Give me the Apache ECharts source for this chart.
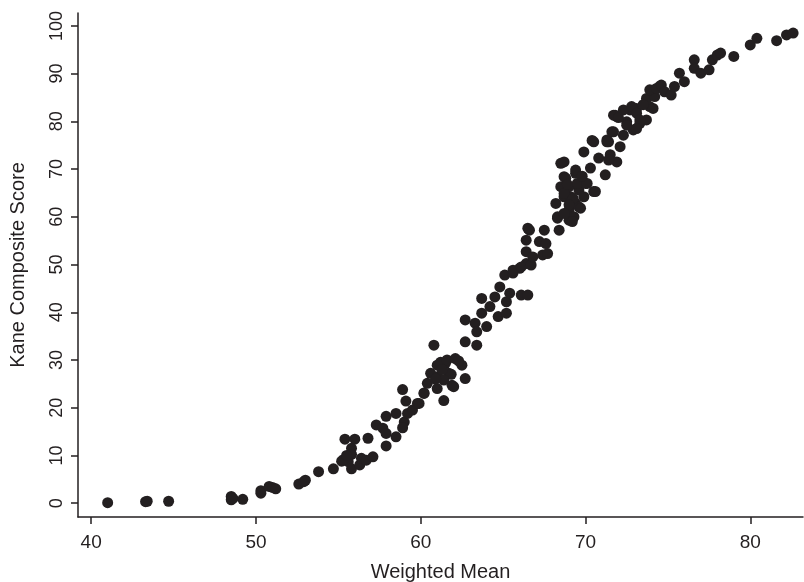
<!DOCTYPE html>
<html>
<head>
<meta charset="utf-8">
<title>Kane Composite Score vs Weighted Mean</title>
<script src="https://cdn.jsdelivr.net/npm/echarts@6/dist/echarts.min.js"></script>
<style>
  html, body { margin: 0; padding: 0; background: #fff; }
  #chart { width: 804px; height: 582px; }
</style>
</head>
<body>
<div id="chart"></div>
<script>
var xTicks = [40, 50, 60, 70, 80];
var yTicks = [0, 10, 20, 30, 40, 50, 60, 70, 80, 90, 100];

var weightedMean = [
    41.0, 43.3, 43.4, 44.7, 48.5, 48.5, 48.6, 49.2, 50.3, 50.3,
    50.8, 51.0, 51.2, 52.6, 52.9, 53.0, 53.8, 54.7, 55.2, 55.4,
    56.0, 55.8, 55.8, 55.6, 55.8, 56.3, 56.4, 56.7, 57.1, 56.8,
    57.3, 57.7, 57.9, 57.9, 57.9, 58.5, 58.5, 55.3, 59.0, 58.9,
    59.2, 59.5, 59.8, 59.1, 58.9, 60.2, 60.4, 60.6, 61.0, 61.4,
    61.0, 61.5, 61.9, 61.7, 60.8, 59.9, 60.2, 61.2, 61.0, 61.6,
    62.1, 62.5, 61.85, 62.0, 62.7, 61.4, 62.7, 63.4, 62.7, 63.3,
    63.4, 64.0, 63.7, 63.7, 64.2, 64.5, 64.7, 65.2, 65.2, 64.8,
    65.1, 65.4, 66.1, 66.5, 65.6, 66.0, 66.4, 65.6, 66.1, 66.4,
    66.7, 66.4, 66.6, 67.5, 67.2, 67.6, 67.4, 66.8, 67.7, 68.4,
    68.3, 68.2, 68.7, 69.0, 68.7, 69.4, 69.6, 69.4, 69.0, 70.0,
    68.7, 69.4, 68.8, 70.3, 69.9, 70.5, 70.8, 71.2, 70.5, 71.4,
    71.6, 71.5, 71.9, 72.1, 72.3, 71.9, 72.5, 72.7, 73.1, 72.9,
    73.7, 73.3, 68.5, 69.1, 69.6, 69.3, 68.3, 71.4, 69.0, 69.5,
    70.1, 68.7, 69.25, 69.9, 70.6, 69.0, 69.7, 68.7, 69.2, 71.3,
    71.7, 71.8, 72.3, 72.8, 73.1, 73.7, 73.9, 72.5, 74.5, 74.2,
    71.7, 73.3, 73.1, 74.1, 73.9, 74.3, 74.6, 74.8, 75.2, 75.4,
    75.7, 76.0, 76.6, 76.6, 77.0, 77.5, 77.7, 78.0, 78.2, 79.0,
    80.0, 80.4, 81.6, 82.2, 82.6, 68.5, 70.4, 71.3, 66.5, 55.5,
    60.9, 61.3, 62.3, 68.9, 69.8, 72.0, 73.5
];

var kaneScore = [
    0.1, 0.3, 0.4, 0.4, 1.4, 0.7, 1.0, 0.8, 2.6, 2.1,
    3.5, 3.3, 3.0, 4.0, 4.5, 4.8, 6.6, 7.2, 8.8, 13.4,
    13.4, 11.5, 10.2, 8.7, 7.2, 8.0, 9.4, 9.0, 9.7, 13.6,
    16.4, 15.7, 14.6, 18.2, 12.0, 18.8, 13.9, 9.1, 17.0, 15.8,
    18.8, 19.5, 20.9, 21.4, 23.8, 23.1, 25.1, 27.2, 24.0, 21.5,
    28.9, 29.3, 24.7, 27.2, 33.1, 20.9, 23.0, 29.5, 26.5, 30.0,
    30.3, 28.9, 27.0, 24.4, 26.1, 25.8, 33.8, 33.1, 38.4, 37.7,
    35.9, 37.0, 39.8, 42.9, 41.2, 43.2, 39.1, 39.8, 42.2, 45.3,
    47.8, 44.0, 43.6, 43.6, 48.2, 49.2, 50.2, 48.8, 49.5, 52.7,
    49.9, 55.1, 57.2, 57.2, 54.8, 54.4, 52.0, 51.6, 52.3, 57.2,
    59.7, 62.8, 64.2, 59.3, 68.4, 69.1, 65.6, 62.8, 61.4, 67.0,
    71.5, 69.8, 68.1, 70.2, 73.6, 75.7, 72.3, 68.8, 65.3, 75.7,
    77.8, 73.0, 71.5, 74.7, 77.1, 81.0, 79.9, 82.4, 82.7, 78.2,
    84.8, 79.6, 66.3, 64.2, 62.1, 60.0, 60.0, 71.9, 66.3, 67.0,
    67.0, 64.9, 63.8, 64.2, 65.3, 62.5, 61.8, 60.7, 59.0, 76.1,
    77.8, 81.3, 82.4, 83.1, 81.7, 80.3, 83.1, 79.2, 87.3, 85.2,
    81.3, 80.3, 78.5, 82.7, 86.6, 86.9, 87.6, 86.2, 85.5, 87.3,
    90.1, 88.3, 92.9, 91.1, 90.1, 90.8, 92.9, 93.9, 94.3, 93.6,
    96.0, 97.4, 96.9, 98.1, 98.5, 71.2, 76.0, 75.7, 57.6, 10.0,
    26.0, 28.0, 29.8, 66.8, 68.5, 80.8, 83.5
];

var points = [];
for (var i = 0; i < weightedMean.length; i++) {
    points.push([weightedMean[i], kaneScore[i]]);
}

var ink = '#231f20';
var font = 'Liberation Sans, Arial, sans-serif';

var myChart = echarts.init(document.getElementById('chart'));
var option = {
    backgroundColor: '#fff',
    animation: false,
    grid: {
        left: 78,
        right: 1,
        top: 13,
        bottom: 65,
        outerBoundsMode: 'none'
    },
    xAxis: {
        type: 'value',
        min: 39.2,
        max: 83.2,
        name: 'Weighted Mean',
        nameLocation: 'middle',
        nameGap: 45,
        nameTextStyle: { color: ink, fontSize: 20, fontFamily: font },
        splitLine: { show: false },
        axisLine: { onZero: false, lineStyle: { color: ink, width: 1.5 } },
        axisTick: { length: 7, customValues: xTicks, lineStyle: { color: ink, width: 1.5 } },
        axisLabel: {
            color: ink, fontSize: 19, fontFamily: font, margin: 16,
            customValues: xTicks
        }
    },
    yAxis: {
        type: 'value',
        min: -2.9,
        max: 102.7,
        name: 'Kane Composite Score',
        nameLocation: 'middle',
        nameGap: 50,
        nameTextStyle: { color: ink, fontSize: 20, fontFamily: font },
        splitLine: { show: false },
        axisLine: { show: true, onZero: false, lineStyle: { color: ink, width: 1.5 } },
        axisTick: { show: true, length: 7, customValues: yTicks, lineStyle: { color: ink, width: 1.5 } },
        axisLabel: {
            color: ink, fontSize: 18, fontFamily: font, margin: 12, rotate: 90,
            customValues: yTicks
        }
    },
    series: [
        {
            type: 'scatter',
            data: points,
            symbolSize: 11,
            itemStyle: { color: ink, opacity: 1 }
        }
    ]
};
myChart.setOption(option);
</script>
</body>
</html>
